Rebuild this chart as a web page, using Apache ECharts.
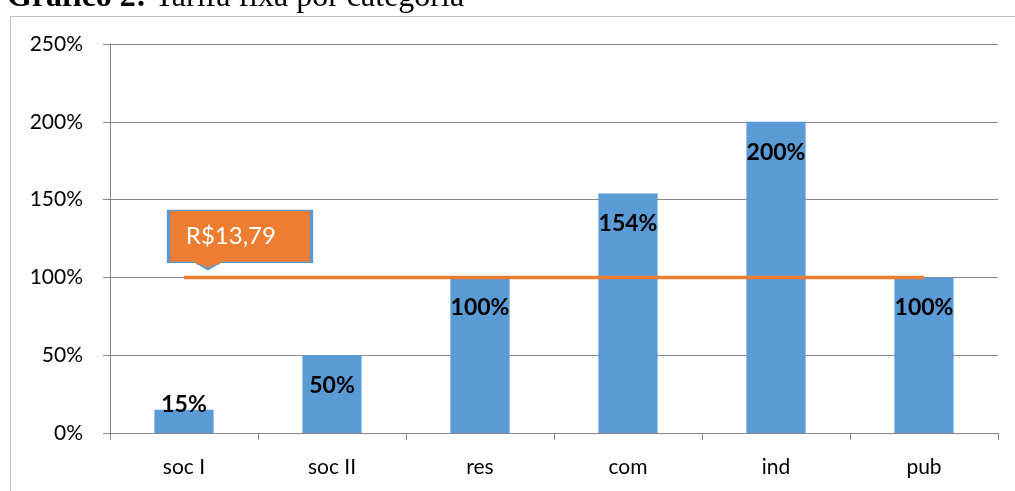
<!DOCTYPE html>
<html>
<head>
<meta charset="utf-8">
<script src="https://cdn.jsdelivr.net/npm/echarts@6/dist/echarts.min.js"></script>
<style>
  html, body { margin: 0; padding: 0; background: #fff; }
  #chart { width: 1015px; height: 491px; }
</style>
</head>
<body>
<div id="chart"></div>
<script>
    // valores
    var categorias = ['soc I', 'soc II', 'res', 'com', 'ind', 'pub'];
    var percentuais = [15, 50, 100, 154, 200, 100];
    var tarifaBase = [100, 100, 100, 100, 100, 100];
    var rotuloTarifa = 'R$13,79';
    var yTicks = [0, 50, 100, 150, 200, 250];

    var axisFont = 'Lato, "Open Sans", sans-serif';
    var chart = echarts.init(document.getElementById('chart'));

    var barData = percentuais.map(function (v, i) {
        var item = { value: v };
        if (i === 0) {
            // barra pequena: rótulo encostado na base
            item.label = { position: 'insideBottom', distance: 17 };
        }
        return item;
    });

    var option = {
        animation: false,
        title: {
            text: '{b|Gráfico 2:} Tarifa fixa por categoria',
            left: 2,
            top: -23,
            textStyle: {
                fontFamily: '"Liberation Serif", serif',
                fontSize: 32,
                fontWeight: 'normal',
                color: '#000',
                rich: { b: { fontFamily: '"Liberation Serif", serif', fontSize: 32, fontWeight: 'bold', color: '#000' } }
            }
        },
        graphic: [{
            type: 'rect',
            left: 8,
            top: 14,
            shape: { width: 1100, height: 600 },
            style: { fill: 'none', stroke: '#bfbfbf', lineWidth: 1 },
            silent: true
        }],
        grid: { left: 110, right: 17, top: 44, bottom: 58, containLabel: false },
        xAxis: {
            type: 'category',
            data: categorias,
            axisLine: { lineStyle: { color: '#868686' } },
            axisTick: { show: true, alignWithLabel: false, length: 7, lineStyle: { color: '#868686' } },
            axisLabel: { color: '#000', fontFamily: axisFont, fontSize: 21, margin: 24 }
        },
        yAxis: {
            type: 'value',
            min: 0,
            max: 250,
            interval: 50,
            axisLine: { show: true, lineStyle: { color: '#868686' } },
            axisTick: { show: true, length: 7, lineStyle: { color: '#868686' } },
            splitLine: { lineStyle: { color: '#868686' } },
            axisLabel: {
                color: '#000',
                fontFamily: axisFont,
                fontSize: 21,
                margin: 27,
                formatter: function (v) { return yTicks.indexOf(v) >= 0 ? v + '%' : ''; }
            }
        },
        series: [{
            type: 'bar',
            data: barData,
            barWidth: '40%',
            itemStyle: { color: '#5B9BD5' },
            label: {
                show: true,
                position: 'insideTop',
                distance: 19,
                formatter: '{c}%',
                color: '#000',
                fontFamily: axisFont,
                fontWeight: 'bold',
                fontSize: 23
            },
            z: 2
        }, {
            type: 'line',
            data: tarifaBase,
            symbol: 'none',
            lineStyle: { color: '#ED7D31', width: 3.5 },
            markPoint: {
                silent: true,
                data: [{
                    // ponta do balão
                    coord: [0, tarifaBase[0]],
                    symbol: 'triangle',
                    symbolRotate: 180,
                    symbolSize: [27, 8],
                    symbolOffset: [24, -12],
                    itemStyle: { color: '#ED7D31', borderColor: '#5B9BD5', borderWidth: 2 },
                    label: { show: false }
                }, {
                    // caixa com o valor da tarifa
                    coord: [0, tarifaBase[0]],
                    symbol: 'rect',
                    symbolSize: [143, 52],
                    symbolOffset: [56, -41],
                    itemStyle: { color: '#ED7D31', borderColor: '#5B9BD5', borderWidth: 2 },
                    label: {
                        show: true,
                        position: 'insideLeft',
                        distance: 19,
                        formatter: rotuloTarifa,
                        color: '#fff',
                        fontFamily: axisFont,
                        fontSize: 24
                    }
                }, {
                    // cobre a borda entre a caixa e a ponta
                    coord: [0, tarifaBase[0]],
                    symbol: 'rect',
                    symbolSize: [24, 4],
                    symbolOffset: [24, -15],
                    itemStyle: { color: '#ED7D31' },
                    label: { show: false }
                }]
            },
            z: 5
        }]
    };

    chart.setOption(option);
</script>
</body>
</html>
